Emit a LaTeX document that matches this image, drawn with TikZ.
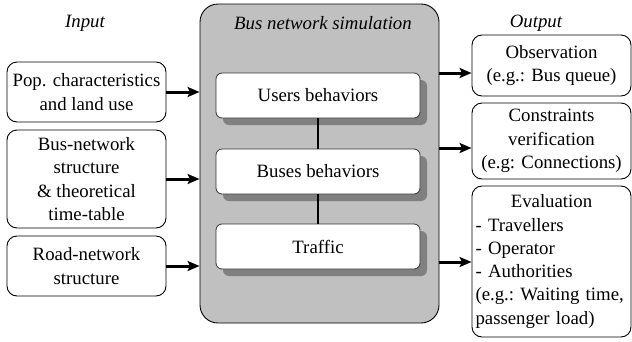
\documentclass[tikz,border=0pt]{standalone}
\usepackage{fontspec}
\setmainfont{Liberation Serif}
\usetikzlibrary{arrows.meta,shadows}
\definecolor{simgray}{HTML}{C0C0C0}
\definecolor{shadowgray}{HTML}{808080}
\begin{document}
\begin{tikzpicture}[x=1pt,y=-1pt,
  font=\fontsize{18.8}{23.3}\selectfont,
  iobox/.style={draw=black,line width=0.9pt,rounded corners=10pt,fill=white,
     align=center,inner sep=0pt,minimum width=159pt},
  innerbox/.style={draw=black!80,line width=0.8pt,rounded corners=6pt,fill=white,
     minimum width=204pt,minimum height=45pt,inner sep=0pt,
     drop shadow={shadow xshift=7pt,shadow yshift=-7pt,fill=shadowgray,opacity=1}},
  arr/.style={line width=3pt,-{Stealth[length=12pt,width=10pt,inset=2.5pt]}},
  lbl/.style={font=\fontsize{18.8}{23.3}\selectfont\itshape,inner sep=0pt}]
\useasboundingbox (0,0) rectangle (632,341);
% simulation box
\node[draw=black,line width=0.9pt,fill=simgray,rounded corners=18pt,
  minimum width=239pt,minimum height=319pt,inner sep=0pt] (sim) at (319.5,163.5) {};
\node[lbl] (simt) at (323,23) {Bus network simulation};
\node[innerbox] (users) at (318,95.5) {Users behaviors};
\node[innerbox] (buses) at (318,171.5) {Buses behaviors};
\node[innerbox] (traffic) at (318,246.5) {Traffic};
\draw[line width=1.3pt] (users.south) -- (buses.north);
\draw[line width=1.3pt] (buses.south) -- (traffic.north);
% input
\node[lbl] (inlbl) at (85,23) {Input};
\node[iobox,minimum height=60pt] (pop) at (86.5,92) {Pop. characteristics\\and land use};
\node[iobox,minimum height=98pt] (busnet) at (86.5,179) {Bus-network\\structure\\\& theoretical\\time-table};
\node[iobox,minimum height=60pt] (road) at (86.5,266) {Road-network\\structure};
\draw[arr] (pop.east) -- (pop.east -| sim.west);
\draw[arr] (busnet.east) -- (busnet.east -| sim.west);
\draw[arr] (road.east) -- (road.east -| sim.west);
% output
\node[lbl] (outlbl) at (536,23) {Output};
\node[iobox,minimum height=61pt] (obs) at (551.5,65.5) {Observation\\(e.g.: Bus queue)};
\node[iobox,minimum height=76pt] (cons) at (551.5,141) {Constraints\\verification\\(e.g: Connections)};
\node[iobox,minimum height=151pt,text width=152pt,align=left] (eval) at (551.5,261.5)
  {\makebox[\linewidth][c]{Evaluation}\\- Travellers\\- Operator\\- Authorities\\(e.g.:~Waiting~time,\\passenger load)};
\coordinate (o1) at (439,73);
\coordinate (o2) at (439,148);
\coordinate (o3) at (439,262);
\draw[arr] (sim.east |- o1) -- (o1 -| obs.west);
\draw[arr] (sim.east |- o2) -- (o2 -| cons.west);
\draw[arr] (sim.east |- o3) -- (o3 -| eval.west);
\end{tikzpicture}
\end{document}
